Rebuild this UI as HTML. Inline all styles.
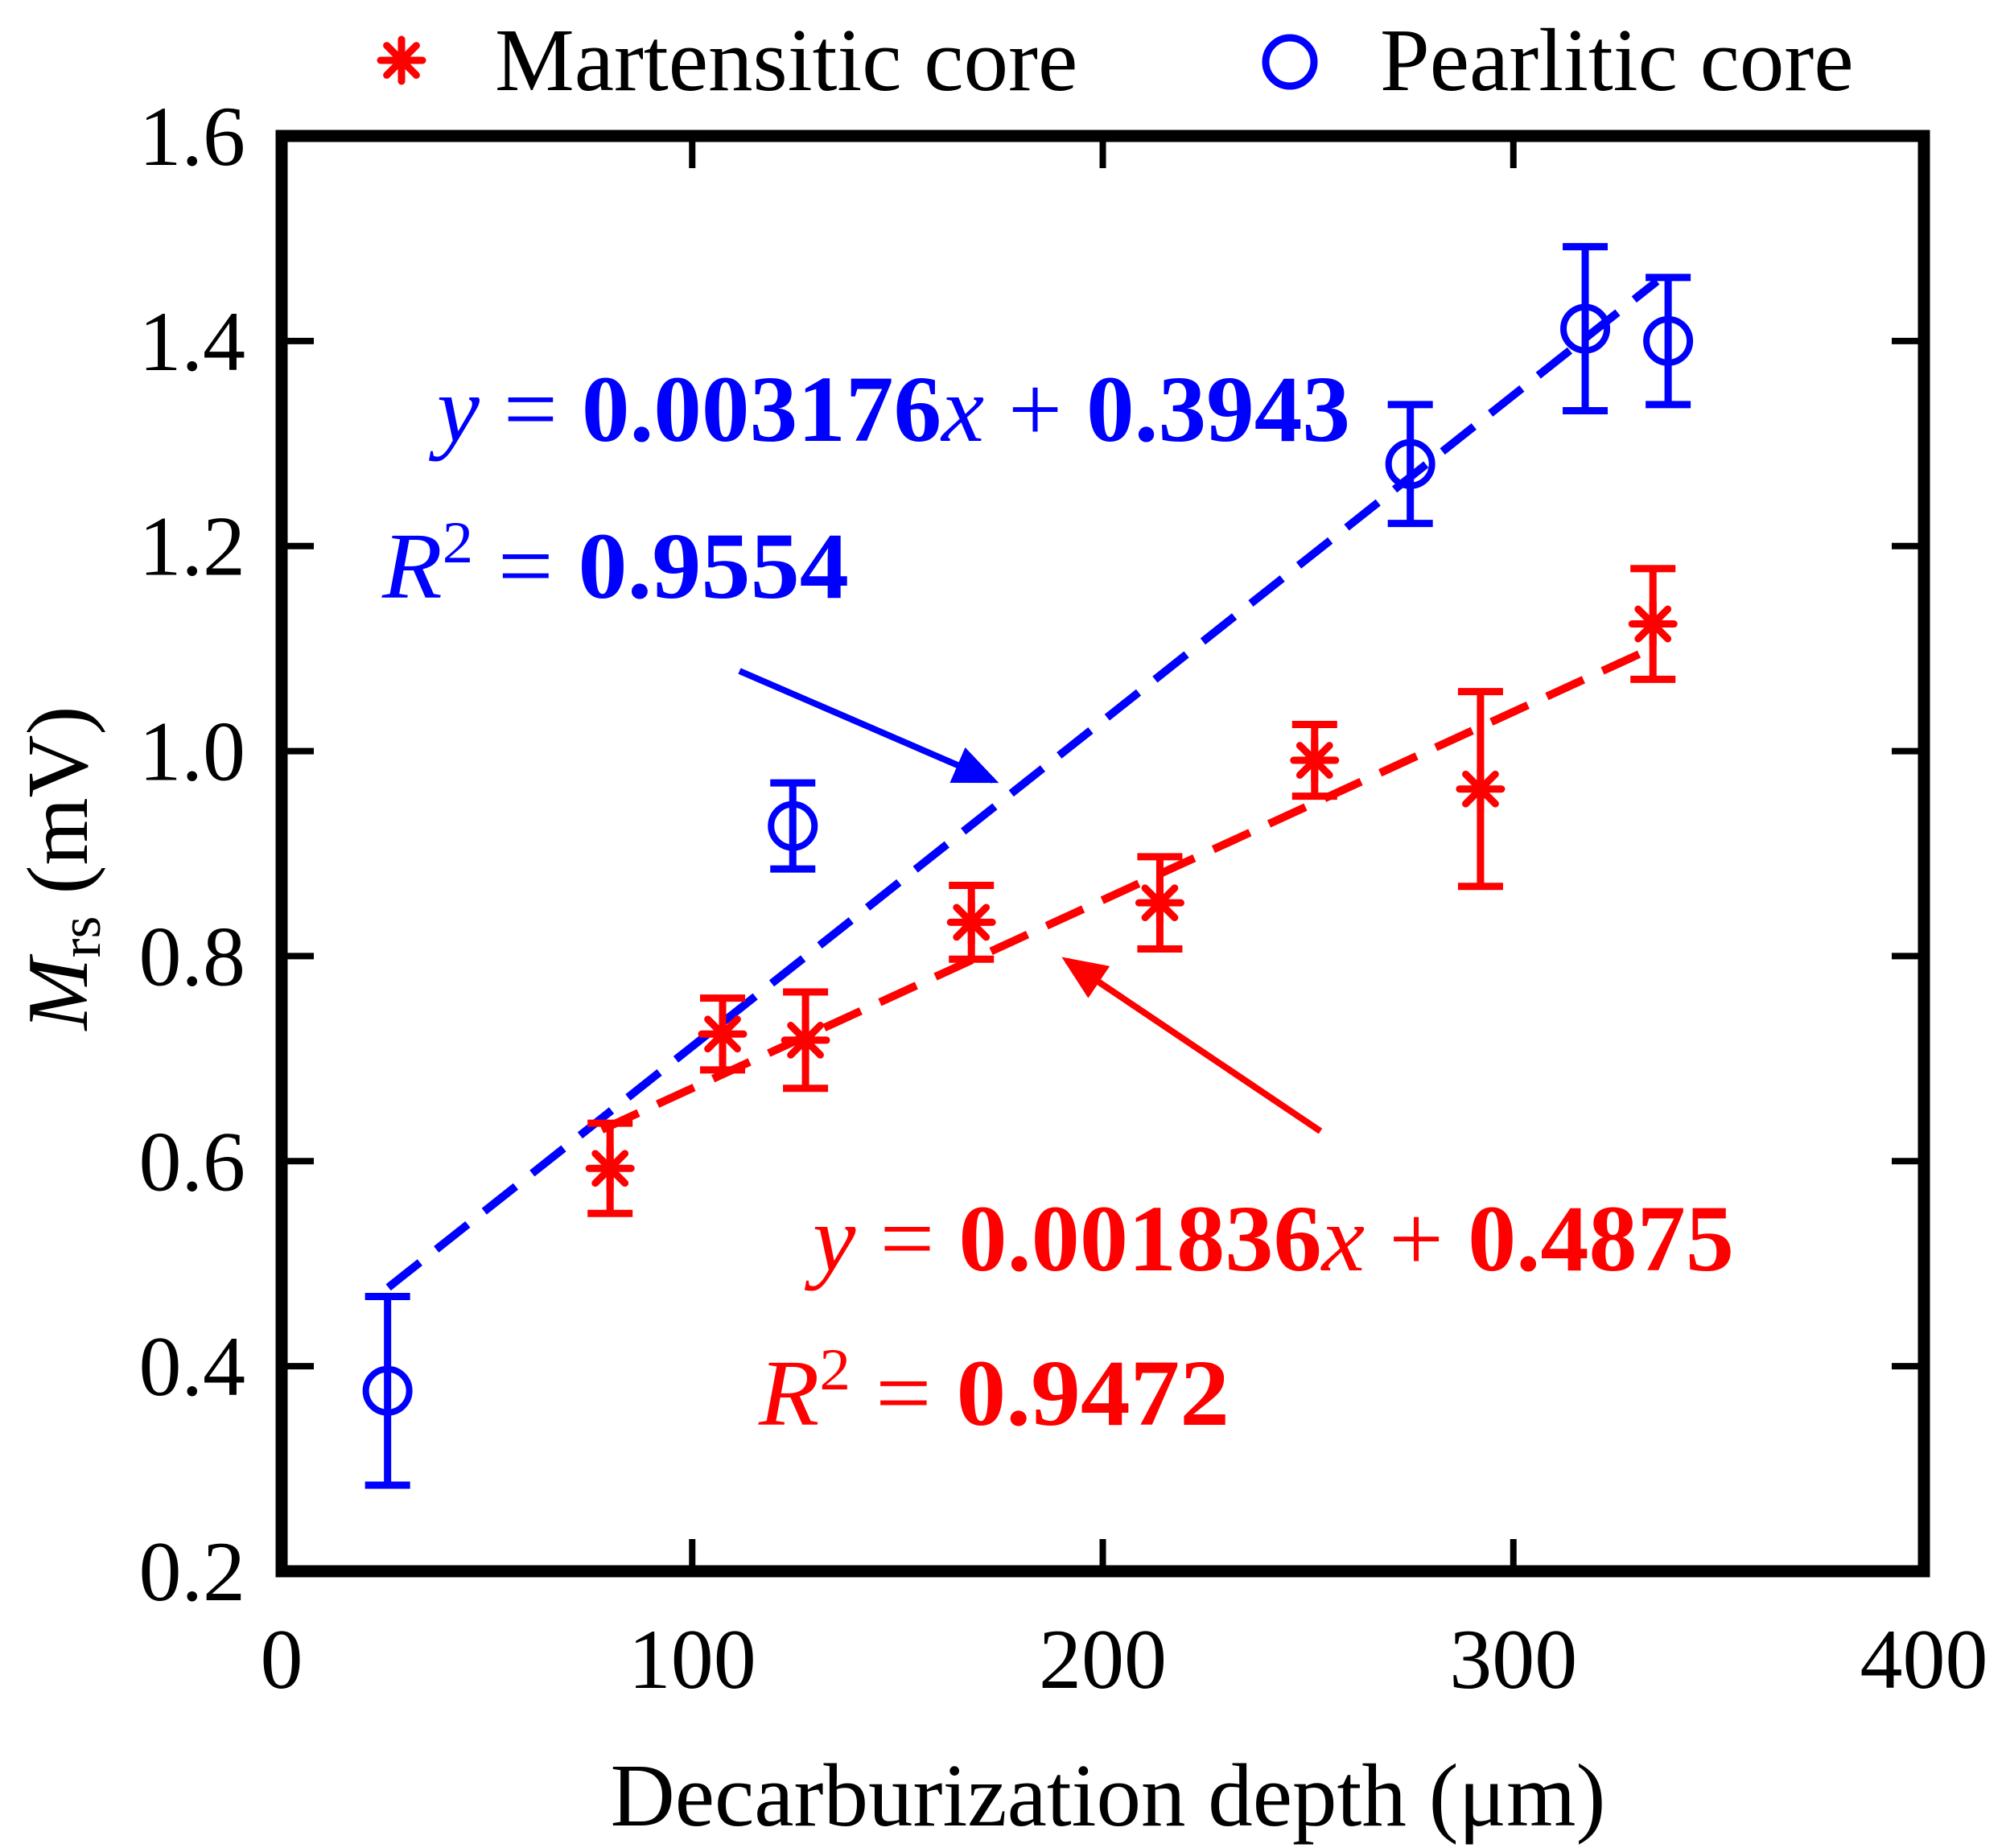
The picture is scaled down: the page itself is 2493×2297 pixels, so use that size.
<!DOCTYPE html>
<html><head><meta charset="utf-8"><style>
html,body{margin:0;padding:0;background:#fff;}
svg{display:block;}
text{font-family:"Liberation Serif",serif;}
</style></head><body>
<svg id="chart" width="2493" height="2297" viewBox="0 0 2493 2297" xmlns="http://www.w3.org/2000/svg">
<defs>
<marker id="ahB" markerWidth="7" markerHeight="6" refX="6" refY="3" orient="auto" markerUnits="strokeWidth"><path d="M0,0 L7,3 L0,6 Z" fill="#0000ff"/></marker>
<marker id="ahR" markerWidth="7" markerHeight="6" refX="6" refY="3" orient="auto" markerUnits="strokeWidth"><path d="M0,0 L7,3 L0,6 Z" fill="#ff0000"/></marker>
</defs>
<g id="plot"></g>
<g>
  <g>
    <g id="legAst"></g>
    <text x="615" y="112" font-size="111">Martensitic core</text>
  </g>
  <g>
    <circle cx="1603" cy="77" r="30" fill="none" stroke="#0000ff" stroke-width="9"/>
    <text x="1715" y="112" font-size="111">Pearlitic core</text>
  </g>
</g>
<text x="1377" y="2269" font-size="111" text-anchor="middle">Decarburization depth (μm)</text>
<text transform="translate(108,1079) rotate(-90)" font-size="108" text-anchor="middle"><tspan font-style="italic">M</tspan><tspan font-size="72" dy="16">rs</tspan><tspan dy="-16"> (mV)</tspan></text>
<g fill="#0000ff" font-size="118">
  <text x="543" y="548" textLength="1135" lengthAdjust="spacingAndGlyphs"><tspan font-style="italic">y</tspan> = <tspan font-weight="bold">0.003176</tspan><tspan font-style="italic">x</tspan> + <tspan font-weight="bold">0.3943</tspan></text>
  <text x="475" y="743" textLength="580" lengthAdjust="spacingAndGlyphs"><tspan font-style="italic">R</tspan><tspan font-size="74" dy="-44">2</tspan><tspan dy="44"> = </tspan><tspan font-weight="bold">0.9554</tspan></text>
</g>
<g fill="#ff0000" font-size="118">
  <text x="1010" y="1579" textLength="1145" lengthAdjust="spacingAndGlyphs"><tspan font-style="italic">y</tspan> = <tspan font-weight="bold">0.001836</tspan><tspan font-style="italic">x</tspan> + <tspan font-weight="bold">0.4875</tspan></text>
  <text x="943" y="1771" textLength="585" lengthAdjust="spacingAndGlyphs"><tspan font-style="italic">R</tspan><tspan font-size="74" dy="-44">2</tspan><tspan dy="44"> = </tspan><tspan font-weight="bold">0.9472</tspan></text>
</g>
<line x1="919" y1="834" x2="1234" y2="970" stroke="#0000ff" stroke-width="8" marker-end="url(#ahB)"/>
<line x1="1641" y1="1406" x2="1326" y2="1194" stroke="#ff0000" stroke-width="8" marker-end="url(#ahR)"/>
</svg>
<script>
const xTicks = [0, 100, 200, 300, 400];
const yTicks = [0.2, 0.4, 0.6, 0.8, 1.0, 1.2, 1.4, 1.6];
const yTickLabels = ["0.2","0.4","0.6","0.8","1.0","1.2","1.4","1.6"];
const pearlX = [25.8, 124.5, 274.9, 317.5, 337.7];
const pearlY = [0.376, 0.927, 1.280, 1.412, 1.400];
const pearlErr = [0.092, 0.042, 0.058, 0.080, 0.062];
const martX = [80.0, 107.4, 127.6, 168.0, 213.9, 251.6, 292.0, 334.0];
const martY = [0.593, 0.724, 0.718, 0.833, 0.852, 0.991, 0.963, 1.124];
const martErr = [0.044, 0.035, 0.047, 0.036, 0.045, 0.035, 0.095, 0.054];
const pearlFit = [0.003176, 0.3943];
const pearlFitRange = [26, 335];
const martFit = [0.001836, 0.4875];
const martFitRange = [78, 335];

const X0=350, X1=2391, Y0=1953, Y1=169;
const xs = v => X0 + (v-0)/(400-0)*(X1-X0);
const ys = v => Y0 - (v-0.2)/(1.6-0.2)*(Y0-Y1);
const NS="http://www.w3.org/2000/svg";
const plot=document.getElementById('plot');
function mk(tag, attrs, parent){const e=document.createElementNS(NS,tag);for(const k in attrs)e.setAttribute(k,attrs[k]);(parent||plot).appendChild(e);return e;}

function fit(p, r, color, name){
  const l=mk('line',{x1:xs(r[0]),y1:ys(p[0]*r[0]+p[1]),x2:xs(r[1]),y2:ys(p[0]*r[1]+p[1]),stroke:color,'stroke-width':10,'stroke-dasharray':'50 26'});
  
  
}
fit(pearlFit, pearlFitRange, '#0000ff', 'pearlitic-fit-line');
fit(martFit, martFitRange, '#ff0000', 'martensitic-fit-line');

function errbar(x,y,e,color,name){
  const g=mk('g',{stroke:color,'stroke-width':9,fill:'none'});
  
  
  const cx=xs(x);
  mk('line',{x1:cx,x2:cx,y1:ys(y-e),y2:ys(y+e)},g);
  mk('line',{x1:cx-28,x2:cx+28,y1:ys(y-e),y2:ys(y-e)},g);
  mk('line',{x1:cx-28,x2:cx+28,y1:ys(y+e),y2:ys(y+e)},g);
}
function asterisk(cx,cy,r,parent){
  const g=mk('g',{stroke:'#ff0000','stroke-width':9,'stroke-linecap':'round'},parent);
  for(let i=0;i<4;i++){const a=i*Math.PI/4;mk('line',{x1:cx-r*Math.cos(a),y1:cy-r*Math.sin(a),x2:cx+r*Math.cos(a),y2:cy+r*Math.sin(a)},g);}
  return g;
}
martX.forEach((x,i)=>{
  errbar(x,martY[i],martErr[i],'#ff0000','martensitic-error-bar');
  const a=asterisk(xs(x),ys(martY[i]),26);
  
  
});
pearlX.forEach((x,i)=>{
  errbar(x,pearlY[i],pearlErr[i],'#0000ff','pearlitic-error-bar');
  const c=mk('circle',{cx:xs(x),cy:ys(pearlY[i]),r:27,fill:'none',stroke:'#0000ff','stroke-width':8});
  
  
});
asterisk(499,75,26,document.getElementById('legAst'));

const tg=mk('g',{stroke:'#000','stroke-width':8});


xTicks.forEach(v=>{
  const x=xs(v);
  mk('line',{x1:x,x2:x,y1:Y0,y2:Y0-40},tg);
  mk('line',{x1:x,x2:x,y1:Y1,y2:Y1+40},tg);
  const t=mk('text',{x:x,y:2098,'font-size':106,'text-anchor':'middle'});
  t.textContent=String(v);
  
  
});
yTicks.forEach((v,i)=>{
  const y=ys(v);
  mk('line',{x1:X0,x2:X0+40,y1:y,y2:y},tg);
  mk('line',{x1:X1,x2:X1-40,y1:y,y2:y},tg);
  const t=mk('text',{x:305,y:y+36,'font-size':106,'text-anchor':'end'});
  t.textContent=yTickLabels[i];
  
  
});
const fr=mk('rect',{x:X0,y:Y1,width:X1-X0,height:Y0-Y1,fill:'none',stroke:'#000','stroke-width':15});


</script>
</body></html>
